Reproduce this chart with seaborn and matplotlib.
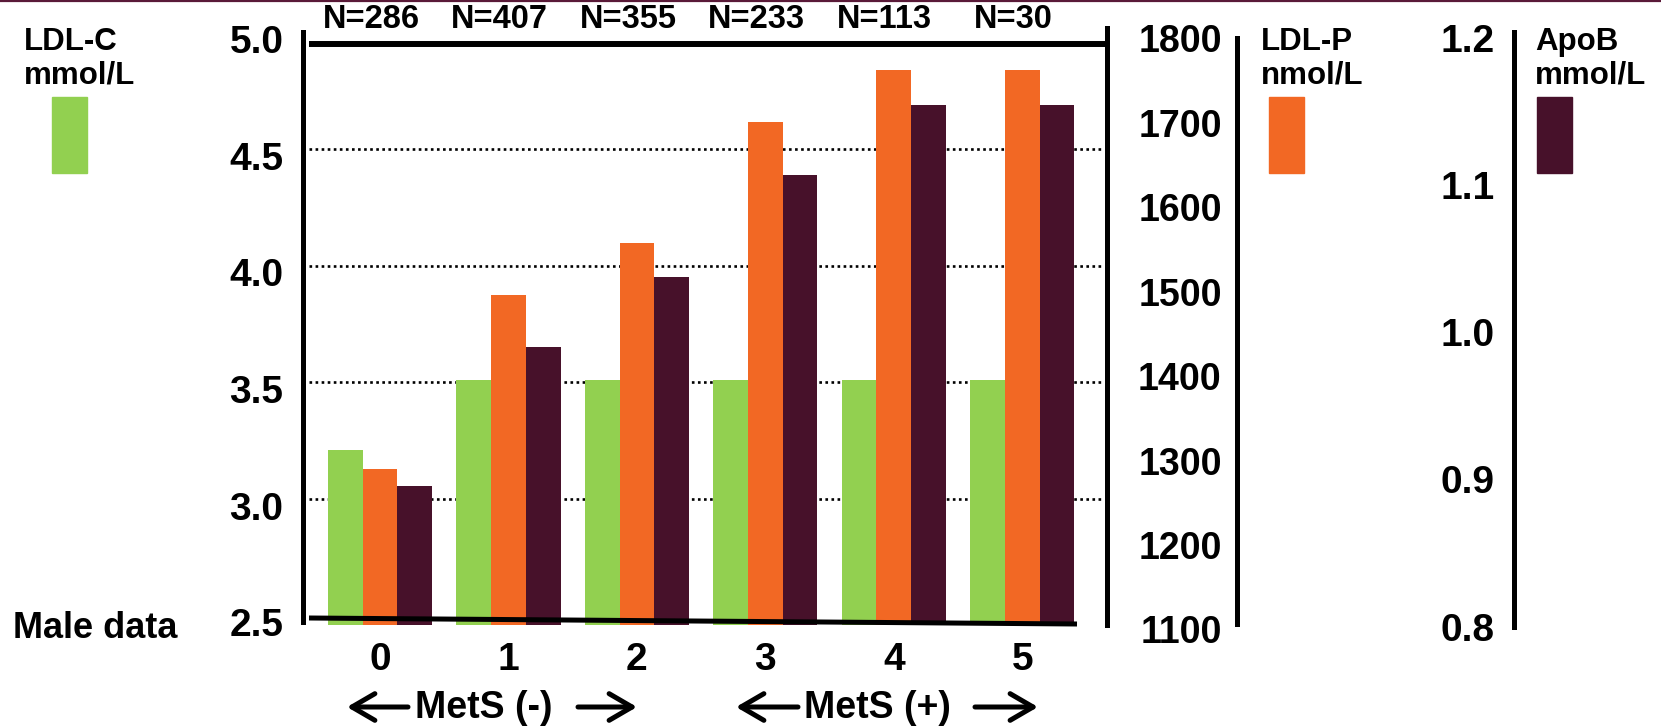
import matplotlib
matplotlib.use("Agg")
import matplotlib.pyplot as plt
import matplotlib.transforms as mtransforms
from matplotlib.lines import Line2D
from matplotlib.patches import Rectangle, FancyArrowPatch
import seaborn as sns
import pandas as pd

# ---------------- data ----------------
categories = ["0", "1", "2", "3", "4", "5"]
n_labels = ["N=286", "N=407", "N=355", "N=233", "N=113", "N=30"]
ldl_c = [3.21, 3.51, 3.51, 3.51, 3.51, 3.51]          # mmol/L (left axis)
ldl_p = [1282, 1488, 1550, 1693, 1755, 1755]          # nmol/L (middle axis)
apob = [0.891, 0.986, 1.033, 1.103, 1.150, 1.150]     # mmol/L (right axis)
series = ["LDL-C", "LDL-P", "ApoB"]
units = ["mmol/L", "nmol/L", "mmol/L"]
colors = ["#92D050", "#F26824", "#47112A"]
ldl_c_ticks = [2.5, 3.0, 3.5, 4.0, 4.5, 5.0]
ldl_p_ticks = [1100, 1200, 1300, 1400, 1500, 1600, 1700, 1800]
apob_ticks = [0.8, 0.9, 1.0, 1.1, 1.2]
grid_levels = [3.0, 3.5, 4.0, 4.5]
group_texts = ["MetS (-)", "MetS (+)"]

df = pd.DataFrame({
    "group": categories * 3,
    "series": [s for s in series for _ in categories],
    "value": ldl_c + ldl_p + apob,
})

# ---------------- style ----------------
sns.set_style("white")
plt.rcParams["font.family"] = ["Liberation Sans", "DejaVu Sans"]
plt.rcParams["font.weight"] = "bold"
for k in ["text.color", "axes.labelcolor", "xtick.color", "ytick.color"]:
    plt.rcParams[k] = "black"

W, H = 1661, 728
fig = plt.figure(figsize=(W / 100, H / 100), dpi=100)
fig.patch.set_facecolor("white")


def fx(px):
    return px / W


def fy(py):
    return 1 - py / H


AX_L, AX_R, AX_T, AX_B = 303, 1107, 28, 625
ax1 = fig.add_axes([fx(AX_L), fy(AX_B), (AX_R - AX_L) / W, (AX_B - AX_T) / H])
ax2 = ax1.twinx()
ax3 = ax1.twinx()
axes = [ax1, ax2, ax3]
palette = dict(zip(series, colors))

for ax, s in zip(axes, series):
    sns.barplot(data=df[df["series"] == s], x="group", y="value", hue="series",
                hue_order=series, order=categories, palette=palette, dodge=True,
                width=0.81, errorbar=None, legend=False, saturation=1,
                linewidth=0, ax=ax)
    ax.set_xlabel("")
    ax.set_ylabel("")

ax1.set_ylim(2.460, 5.020)
ax2.set_ylim(1097.6, 1804.7)
ax3.set_ylim(0.7966, 1.2027)
ax1.set_xlim(-0.60, 5.66)

# grid lines (dotted)
for g in grid_levels:
    ax1.axhline(g, xmin=0.0075, xmax=0.996, color="black", lw=1.9,
                ls=(0, (1, 1.3)), zorder=0.5)

SPW = 3.6
# ---- left axis (LDL-C)
for sp in ["top", "bottom"]:
    ax1.spines[sp].set_visible(False)
ax1.spines["left"].set_linewidth(SPW)
ax1.spines["left"].set_color("black")
ax1.spines["left"].set_bounds(2.473, 5.003)
ax1.spines["right"].set_linewidth(SPW)
ax1.spines["right"].set_color("black")
ax1.spines["right"].set_bounds(2.460, 5.020)
ax1.set_yticks(ldl_c_ticks)
ax1.set_yticklabels([f"{t:.1f}" for t in ldl_c_ticks])
ax1.tick_params(axis="y", length=0, pad=14, labelsize=28, labelcolor="black")
ax1.set_xticks(range(len(categories)))
ax1.set_xticklabels(categories)
ax1.tick_params(axis="x", length=0, pad=12, labelsize=28, labelcolor="black")

# ---- middle axis (LDL-P)
for sp in ["top", "bottom", "right"]:
    ax2.spines[sp].set_visible(False)
ax2.yaxis.set_ticks_position("left")
ax2.yaxis.set_label_position("left")
ax2.spines["left"].set_visible(True)
ax2.spines["left"].set_position(("axes", (1237 - AX_L) / (AX_R - AX_L)))
ax2.spines["left"].set_linewidth(SPW)
ax2.spines["left"].set_color("black")
ax2.spines["left"].set_bounds(1099, 1793)
ax2.set_yticks(ldl_p_ticks)
ax2.set_yticklabels([str(t) for t in ldl_p_ticks])
ax2.tick_params(axis="y", length=0, pad=11, labelsize=27, labelcolor="black")

# ---- right axis (ApoB)
for sp in ["top", "bottom", "right"]:
    ax3.spines[sp].set_visible(False)
ax3.yaxis.set_ticks_position("left")
ax3.yaxis.set_label_position("left")
ax3.spines["left"].set_visible(True)
ax3.spines["left"].set_position(("axes", (1514 - AX_L) / (AX_R - AX_L)))
ax3.spines["left"].set_linewidth(SPW)
ax3.spines["left"].set_color("black")
ax3.spines["left"].set_bounds(0.795, 1.2)
ax3.set_yticks(apob_ticks)
ax3.set_yticklabels([f"{t:.1f}" for t in apob_ticks])
ax3.tick_params(axis="y", length=0, pad=14, labelsize=28, labelcolor="black")

# shift y tick labels slightly downward (as in the original slide)
off = mtransforms.ScaledTranslation(0, -6.5 / 100, fig.dpi_scale_trans)
for ax in axes:
    for lab in ax.get_yticklabels():
        lab.set_transform(lab.get_transform() + off)
        lab.set_fontweight("bold")
for lab in ax1.get_xticklabels():
    lab.set_fontweight("bold")

# top and (slightly slanted) bottom frame lines
ax3.add_line(Line2D([6 / 804, 802 / 804], [0.9737, 0.9737], transform=ax3.transAxes,
                    color="black", lw=4.3, solid_capstyle="butt", clip_on=False, zorder=10))
ax3.add_line(Line2D([6 / 804, 774 / 804], [(AX_B - 618) / 597, (AX_B - 624) / 597],
                    transform=ax3.transAxes, color="black", lw=3.6,
                    solid_capstyle="butt", clip_on=False, zorder=10))

# N labels above groups
btrans = mtransforms.blended_transform_factory(ax1.transData, fig.transFigure)
for i, t in enumerate(n_labels):
    ax1.text(i - 0.07, fy(20), t, transform=btrans, ha="center", va="center",
             fontsize=23.5, fontweight="bold", clip_on=False)

# legend-like labels and swatches
legend_pos = [(24, 52), (1261, 1269), (1535, 1537)]
for (tx, sx), s, u, c in zip(legend_pos, series, units, colors):
    fig.text(fx(tx), fy(42), s, ha="left", va="center", fontsize=22.5, fontweight="bold")
    fig.text(fx(tx), fy(76), u, ha="left", va="center", fontsize=22.5, fontweight="bold")
    fig.patches.append(Rectangle((fx(sx), fy(173)), 35 / W, 76 / H,
                                 transform=fig.transFigure, color=c, zorder=5))

fig.text(fx(13), fy(628), "Male data", ha="left", va="center", fontsize=26,
         fontweight="bold")

# MetS group labels with arrows
for txt, cx, la, ra in zip(group_texts, [484, 877], [(408, 347), (798, 736)],
                           [(578, 637), (975, 1038)]):
    fig.text(fx(cx), fy(708), txt, ha="center", va="center", fontsize=27,
             fontweight="bold")
    for a, b in [la, ra]:
        fig.add_artist(FancyArrowPatch((fx(a), fy(707)), (fx(b), fy(707)),
                                       transform=fig.transFigure,
                                       arrowstyle="->,head_length=0.55,head_width=0.32",
                                       mutation_scale=30, lw=3.6, color="black",
                                       shrinkA=0, shrinkB=0))

# thin maroon rule at the very top of the slide
fig.add_artist(Line2D([0, 1], [fy(1), fy(1)], transform=fig.transFigure,
                      color="#5A1A38", lw=1.6))

fig.savefig("out.png", dpi=100, facecolor="white")
